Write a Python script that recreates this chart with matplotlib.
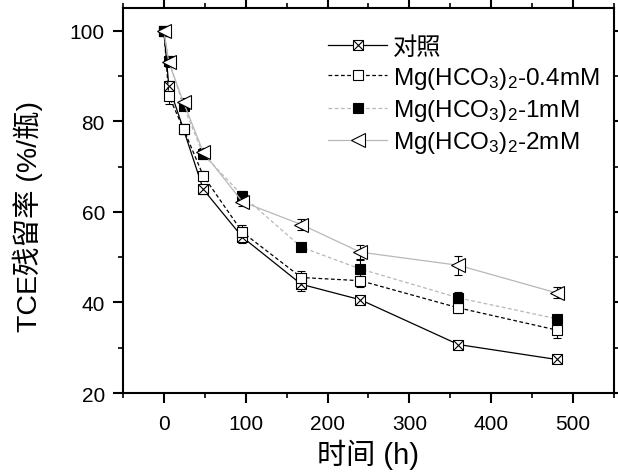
import numpy as np
import matplotlib
matplotlib.use("Agg")
import matplotlib.pyplot as plt
from matplotlib.lines import Line2D

plt.rcParams['font.family'] = ['Liberation Sans', 'Noto Sans CJK SC', 'DejaVu Sans']
plt.rcParams['mathtext.fontset'] = 'custom'
plt.rcParams['mathtext.rm'] = 'Liberation Sans'
plt.rcParams['mathtext.default'] = 'regular'

# data
hours = [0, 6, 24, 48, 96, 168, 240, 360, 480]
control = [100, 87.8, 78.2, 65.0, 54.4, 44.0, 40.6, 30.7, 27.4]
control_err = [0.5, 1.0, 1.0, 1.0, 1.3, 1.5, 0.8, 0.8, 0.8]
mg04 = [100, 85.6, 78.3, 68.0, 55.5, 45.5, 44.8, 38.8, 33.9]
mg04_err = [0.5, 1.8, 1.0, 1.0, 1.5, 1.5, 1.5, 1.2, 1.8]
mg1 = [100, 93.4, 83.4, 72.7, 63.6, 52.2, 47.4, 41.0, 36.4]
mg1_err = [0.5, 1.0, 1.0, 1.0, 1.0, 0.5, 2.0, 1.2, 0.8]
mg2 = [100, 93.0, 84.2, 73.2, 62.2, 57.2, 51.1, 48.2, 42.1]
mg2_err = [0.5, 1.0, 1.0, 1.0, 1.0, 1.3, 1.5, 2.1, 1.2]

labels = ['对照', 'Mg(HCO$_3$)$_2$-0.4mM', 'Mg(HCO$_3$)$_2$-1mM', 'Mg(HCO$_3$)$_2$-2mM']

fig = plt.figure(figsize=(6.18, 4.77), dpi=100)
ax = fig.add_axes([0.199, 0.174, 0.7945, 0.807])

ms = 7.5
gray = '#b8b8b8'

def errs(y, e):
    ax.errorbar(hours, y, yerr=e, fmt='none', ecolor='black', elinewidth=0.8,
                capsize=3, capthick=0.8, zorder=2)

# control
errs(control, control_err)
ax.plot(hours, control, color='black', lw=0.9, marker='s', ms=ms, mfc='white',
        mec='black', mew=0.8, zorder=3)
ax.plot(hours, control, ls='none', marker='x', ms=ms, mec='black', mew=0.8, zorder=3)
# 0.4 mM
errs(mg04, mg04_err)
ax.plot(hours, mg04, color='black', lw=0.9, ls=(0, (3, 2)), marker='s', ms=ms,
        mfc='white', mec='black', mew=0.8, zorder=4)
# 1 mM
errs(mg1, mg1_err)
ax.plot(hours, mg1, color=gray, lw=0.9, ls=(0, (3, 2)), marker='s', ms=ms,
        mfc='black', mec='black', mew=0.8, zorder=5)
# 2 mM
errs(mg2, mg2_err)
ax.plot(hours, mg2, color=gray, lw=0.9, marker='<', ms=ms + 3, mfc='white',
        mec='black', mew=0.8, zorder=6)

ax.set_xlim(-50, 550)
ax.set_ylim(20, 105)
ax.set_xticks([0, 100, 200, 300, 400, 500])
ax.set_xticks(np.arange(-50, 551, 50), minor=True)
ax.set_yticks([20, 40, 60, 80, 100])
ax.set_yticks(np.arange(20, 106, 10), minor=True)
ax.tick_params(which='major', direction='out', length=7, width=1.5, labelsize=15,
               top=True, right=True)
ax.tick_params(axis='x', which='major', pad=8)
ax.tick_params(axis='y', which='major', pad=6)
ax.tick_params(which='minor', direction='out', length=3.5, width=1.2,
               top=True, right=True)
for s in ax.spines.values():
    s.set_linewidth(1.5)

ax.set_xlabel('时间 (h)', fontsize=21, labelpad=4)
ax.set_ylabel('TCE残留率 (%/瓶)', fontsize=20.5)
ax.yaxis.set_label_coords(-0.163, 0.46)

h1 = (Line2D([], [], color='black', lw=0.9, marker='s', ms=ms, mfc='white', mec='black', mew=0.8),
      Line2D([], [], ls='none', marker='x', ms=ms, mec='black', mew=0.8))
h2 = Line2D([], [], color='black', lw=0.9, ls=(0, (3, 2)), marker='s', ms=ms, mfc='white', mec='black', mew=0.8)
h3 = Line2D([], [], color=gray, lw=0.9, ls=(0, (3, 2)), marker='s', ms=ms, mfc='black', mec='black', mew=0.8)
h4 = Line2D([], [], color=gray, lw=0.9, marker='<', ms=ms + 3, mfc='white', mec='black', mew=0.8)
ax.legend([h1, h2, h3, h4], labels, loc='upper left', frameon=False, fontsize=17.5,
          handlelength=2.43, handletextpad=0.25, labelspacing=0.25,
          bbox_to_anchor=(0.4175, 0.927), borderaxespad=0, borderpad=0)

fig.savefig('out.png', dpi=100)
